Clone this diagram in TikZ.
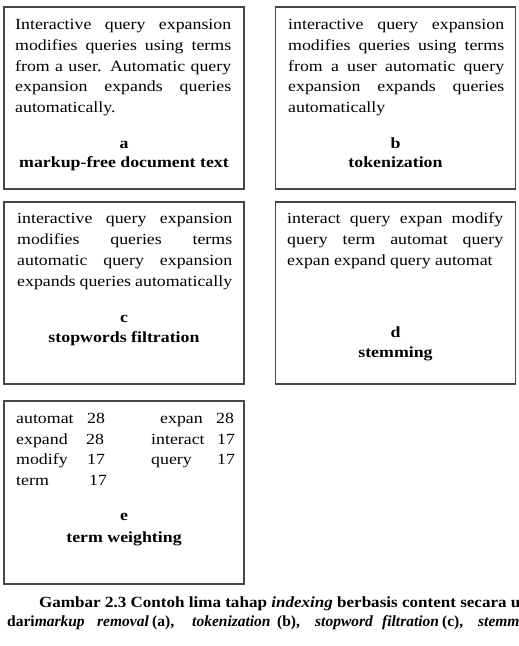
\documentclass[tikz,border=0pt]{standalone}
\usepackage{fontspec}
\setmainfont{Liberation Serif}[FakeStretch=1.15]
\newfontfamily\capfont{Liberation Serif}[FakeStretch=1.10]
\newfontfamily\capfontB{Liberation Serif}
\newcommand\fs{\fontsize{15.5}{20.8}\selectfont}
\newcommand\jl[2][216pt]{\makebox[#1][s]{#2}}
\newcommand\seg[2]{\makebox[#1pt][l]{#2}}
\tikzset{
  box/.style={draw=black!72, line width=1.1pt, inner sep=0pt, minimum width=240pt, minimum height=182pt},
  ln/.style={anchor=base west, inner sep=0pt, font=\fs},
  lbl/.style={anchor=base, inner sep=0pt, font=\fs\bfseries},
}
\begin{document}
\begin{tikzpicture}[x=1pt,y=-1pt]
\useasboundingbox (0,0) rectangle (519,646);
\clip (0,0) rectangle (519,646);
% boxes
\node[box] (boxA) at (124,98) {};
\node[box] (boxB) at (395.5,98) {};
\node[box] (boxC) at (124,293) {};
\node[box] (boxD) at (395.5,293) {};
\node[box, minimum height=183pt] (boxE) at (124,492.5) {};
% a
\node[ln] (a1) at (15,29) {\jl{Interactive query expansion}};
\node[ln] (a2) at (15,50) {\jl{modifies queries using terms}};
\node[ln] (a3) at (15,71) {\jl{from a user. Automatic query}};
\node[ln] (a4) at (15,91) {\jl{expansion expands queries}};
\node[ln] (a5) at (15,112) {automatically.};
\node[lbl] (la) at (124,148) {a};
\node[lbl] (ta) at (124,167) {markup-free document text};
% b
\node[ln] (b1) at (288,29) {\jl{interactive query expansion}};
\node[ln] (b2) at (288,50) {\jl{modifies queries using terms}};
\node[ln] (b3) at (288,71) {\jl{from a user automatic query}};
\node[ln] (b4) at (288,91) {\jl{expansion expands queries}};
\node[ln] (b5) at (288,112) {automatically};
\node[lbl] (lb) at (395.5,148) {b};
\node[lbl] (tb) at (395.5,167) {tokenization};
% c
\node[ln] (c1) at (17,223) {\jl[215pt]{interactive query expansion}};
\node[ln] (c2) at (17,244) {\jl[215pt]{modifies queries terms}};
\node[ln] (c3) at (17,265) {\jl[215pt]{automatic query expansion}};
\node[ln] (c4) at (17,286) {\jl[215pt]{expands queries automatically}};
\node[lbl] (lc) at (124,322) {c};
\node[lbl] (tc) at (124,342) {stopwords filtration};
% d
\node[ln] (d1) at (287,223) {\jl{interact query expan modify}};
\node[ln] (d2) at (287,244) {\jl{query term automat query}};
\node[ln] (d3) at (287,265) {expan expand query automat};
\node[lbl] (ld) at (395.5,337) {d};
\node[lbl] (td) at (395.5,357) {stemming};
% e
\node[ln] (e1) at (16,423) {automat};
\node[ln] (e1n) at (87,423) {28};
\node[ln] (e2) at (16,444) {expand};
\node[ln] (e2n) at (86,444) {28};
\node[ln] (e3) at (16,464) {modify};
\node[ln] (e3n) at (87,464) {17};
\node[ln] (e4) at (16,485) {term};
\node[ln] (e4n) at (89,485) {17};
\node[ln] (f1) at (160,423) {expan};
\node[ln] (f1n) at (216,423) {28};
\node[ln] (f2) at (151,444) {interact};
\node[ln] (f2n) at (217,444) {17};
\node[ln] (f3) at (151,464) {query};
\node[ln] (f3n) at (217,464) {17};
\node[lbl] (le) at (124,520) {e};
\node[lbl] (te) at (124,542) {term weighting};
% caption
\node[ln, font=\fs\capfont\bfseries] (cap1) at (39,607) {Gambar 2.3 Contoh lima tahap \textit{indexing} berbasis content secara urut};
\node[ln, font=\fs\capfontB\bfseries] (cap2) at (7,626) {\seg{90}{dari\textit{markup}}\seg{55}{\textit{removal}}\seg{40}{(a),}\seg{85}{\textit{tokenization}}\seg{38}{(b),}\seg{67}{\textit{stopword}}\seg{60}{\textit{filtration}}\seg{36}{(c),}\textit{stemming}};
\end{tikzpicture}
\end{document}
